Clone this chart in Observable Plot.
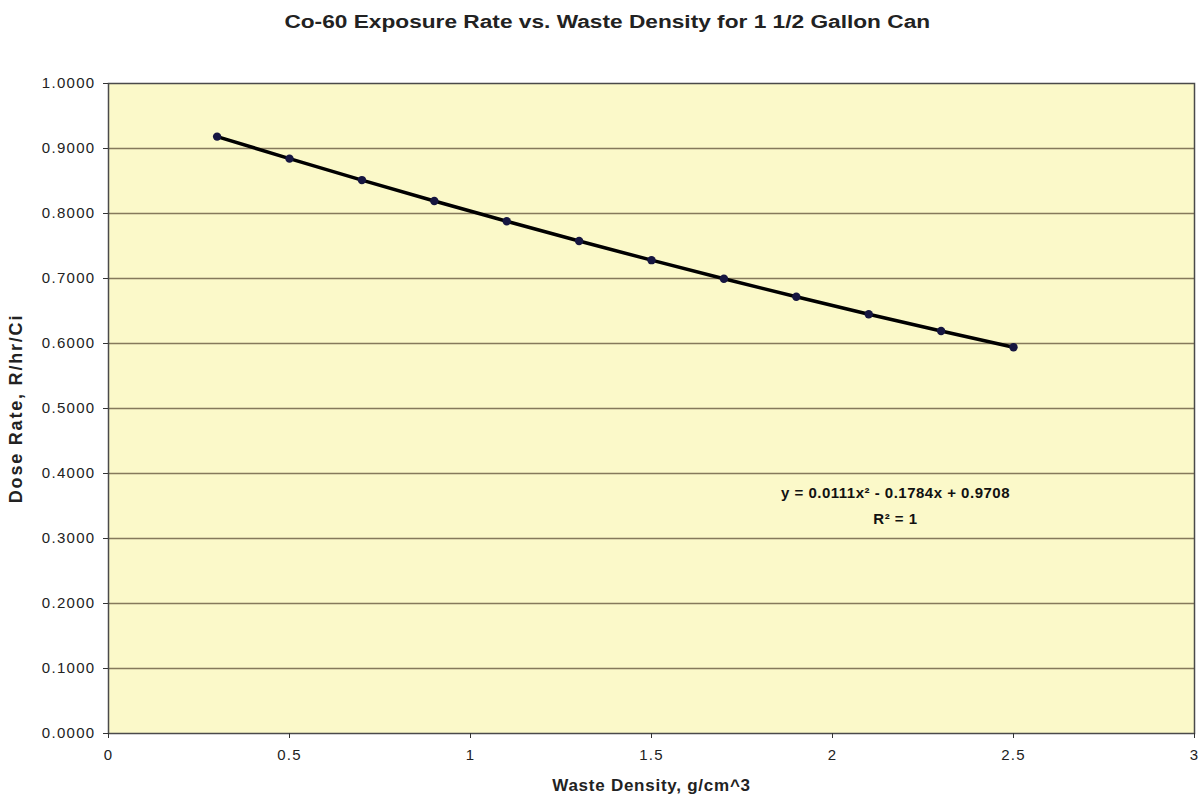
<!DOCTYPE html>
<html>
<head>
<meta charset="utf-8">
<script src="https://cdn.jsdelivr.net/npm/d3@7"></script>
<script src="https://cdn.jsdelivr.net/npm/@observablehq/plot@0.6"></script>
<style>
  html, body { margin: 0; padding: 0; background: #fff; }
  body { width: 1201px; height: 803px; overflow: hidden; font-family: "Liberation Sans", Arial, sans-serif; }
  #title { height: 45px; line-height: 44px; text-align: center; padding-left: 14px; }
  #title span { display: inline-block; font-size: 18px; font-weight: bold; color: #222; transform: scaleX(1.26); }
</style>
</head>
<body>
<div id="title"><span>Co-60 Exposure Rate vs. Waste Density for 1 1/2 Gallon Can</span></div>
<div id="chart"></div>
<script>
const density = [0.3, 0.5, 0.7, 0.9, 1.1, 1.3, 1.5, 1.7, 1.9, 2.1, 2.3, 2.5];
const doseRate = [0.9183, 0.8844, 0.8514, 0.8192, 0.7880, 0.7576, 0.7282, 0.6996, 0.6719, 0.6451, 0.6192, 0.5942];
const xTicks = [0, 0.5, 1, 1.5, 2, 2.5, 3];
const yTicks = [0, 0.1, 0.2, 0.3, 0.4, 0.5, 0.6, 0.7, 0.8, 0.9, 1.0];
const gridY = [0.1, 0.2, 0.3, 0.4, 0.5, 0.6, 0.7, 0.8, 0.9];
const equationText = ["y = 0.0111x\u00B2 - 0.1784x + 0.9708", "R\u00B2 = 1"];
const equationX = [2.174, 2.174];
const equationY = [0.369, 0.329];

const data = density.map((d, i) => ({x: d, y: doseRate[i]}));
const eq = equationText.map((t, i) => ({t, x: equationX[i], y: equationY[i]}));

const chart = Plot.plot({
  width: 1201,
  height: 758,
  marginTop: 38,
  marginBottom: 70,
  marginLeft: 108,
  marginRight: 7,
  style: {fontFamily: "'Liberation Sans', Arial, sans-serif", fontSize: "15px", color: "#222", background: "#fff", overflow: "visible"},
  x: {domain: [0, 3]},
  y: {domain: [0, 1]},
  marks: [
    Plot.frame({fill: "#fbf9c9", stroke: "none"}),
    Plot.ruleY(gridY, {stroke: "#857a5c", strokeWidth: 1.5}),
    Plot.frame({stroke: "#4a4a4a", strokeWidth: 1.5}),
    Plot.axisX({ticks: xTicks, tickSize: 5, tickPadding: 11, stroke: "#333", fontSize: 15,
      tickFormat: d => String(d),
      label: "Waste Density, g/cm^3", labelAnchor: "center", labelOffset: 57, labelArrow: "none"}),
    Plot.axisY({ticks: yTicks, tickSize: 5, tickPadding: 8, stroke: "#333", fontSize: 15,
      tickFormat: d3.format(".4f"),
      label: "Dose Rate, R/hr/Ci", labelAnchor: "center", labelOffset: 99, labelArrow: "none"}),
    Plot.line(data, {x: "x", y: "y", stroke: "#000", strokeWidth: 3.5}),
    Plot.dot(data, {x: "x", y: "y", r: 4.2, fill: "#161640", stroke: "none"}),
    Plot.text(eq, {x: "x", y: "y", text: "t", fontWeight: "bold", fontSize: 15, fill: "#111"})
  ]
});
document.getElementById("chart").appendChild(chart);
const svg = d3.select(chart);
svg.selectAll('[aria-label="x-axis tick label"] text, [aria-label="y-axis tick label"] text')
  .attr("letter-spacing", "1.3px");
svg.selectAll('[aria-label="x-axis label"]')
  .attr("font-weight", "bold").attr("font-size", 17).attr("letter-spacing", "0.75px");
svg.selectAll('[aria-label="y-axis label"]')
  .attr("font-weight", "bold").attr("font-size", 18).attr("letter-spacing", "1.8px");
svg.selectAll('[aria-label="text"] text').attr("letter-spacing", "0.5px");
</script>
</body>
</html>
